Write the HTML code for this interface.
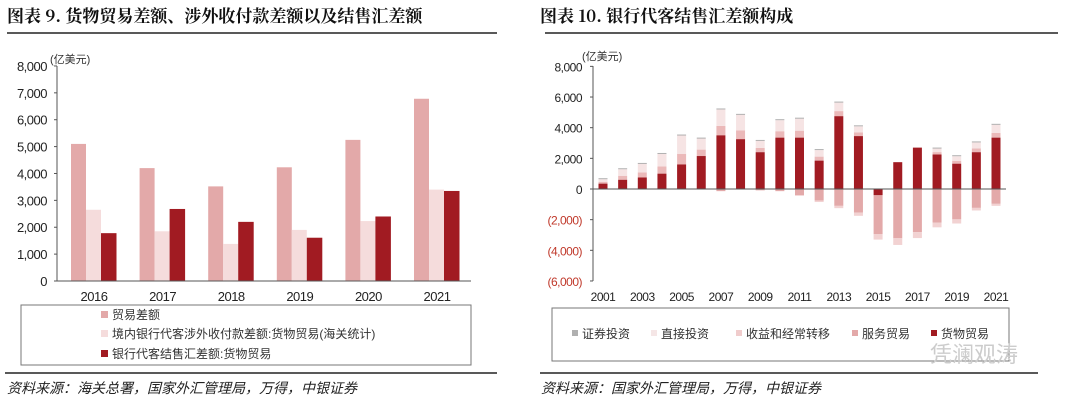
<!DOCTYPE html>
<html><head><meta charset="utf-8">
<style>
html,body{margin:0;padding:0;background:#fff;}
body{width:1080px;height:405px;overflow:hidden;position:relative;font-family:"Liberation Sans","Noto Sans CJK SC",sans-serif;}
svg{position:absolute;left:0;top:0;}
</style></head><body>
<svg id="s" width="1080" height="405" xmlns="http://www.w3.org/2000/svg" font-family="Liberation Sans, Noto Sans CJK SC, sans-serif">
<text x="7" y="22" font-size="17" font-weight="bold" fill="#111" font-family="Noto Serif CJK SC, Noto Sans CJK SC, serif">图表 9. 货物贸易差额、涉外收付款差额以及结售汇差额</text>
<text x="540" y="22" font-size="17" font-weight="bold" fill="#111" font-family="Noto Serif CJK SC, Noto Sans CJK SC, serif">图表 10. 银行代客结售汇差额构成</text>
<line x1="7" y1="33" x2="497" y2="33" stroke="#222" stroke-width="1.5"/>
<line x1="545" y1="33" x2="1058" y2="33" stroke="#222" stroke-width="1.5"/>
<line x1="5" y1="373" x2="497" y2="373" stroke="#222" stroke-width="1.5"/>
<line x1="540" y1="373" x2="1038" y2="373" stroke="#222" stroke-width="1.5"/>
<text x="7" y="393" font-size="14" font-style="italic" fill="#222">资料来源：海关总署，国家外汇管理局，万得，中银证券</text>
<text x="541" y="393" font-size="14" font-style="italic" fill="#222">资料来源：国家外汇管理局，万得，中银证券</text>
<g id="L"></g><g id="R"></g>
<rect x="21" y="305" width="450" height="60" fill="none" stroke="#777" stroke-width="1"/>
<rect x="101" y="311" width="7" height="7" fill="#e3a9a9"/><text x="112" y="319" font-size="12" fill="#333">贸易差额</text>
<rect x="101" y="330" width="7" height="7" fill="#f5dcdc"/><text x="112" y="338" font-size="12" fill="#333">境内银行代客涉外收付款差额:货物贸易(海关统计)</text>
<rect x="101" y="350" width="7" height="7" fill="#a11b22"/><text x="112" y="358" font-size="12" fill="#333">银行代客结售汇差额:货物贸易</text>
<rect x="552" y="308" width="457" height="53" fill="none" stroke="#777" stroke-width="1"/>
<rect x="572" y="330" width="6" height="6" fill="#b0b0b0"/><text x="582" y="338" font-size="12" fill="#333">证券投资</text>
<rect x="651" y="330" width="6" height="6" fill="#f5e6e6"/><text x="661" y="338" font-size="12" fill="#333">直接投资</text>
<rect x="736" y="330" width="6" height="6" fill="#f0cccc"/><text x="746" y="338" font-size="12" fill="#333">收益和经常转移</text>
<rect x="852" y="330" width="6" height="6" fill="#e3a9a9"/><text x="862" y="338" font-size="12" fill="#333">服务贸易</text>
<rect x="931" y="330" width="6" height="6" fill="#a11b22"/><text x="941" y="338" font-size="12" fill="#333">货物贸易</text>
<text x="930" y="362" font-size="22" fill="#ccc">凭澜观涛</text>
</svg>
<script>
var NS="http://www.w3.org/2000/svg";
function el(p,t,a,tx){var e=document.createElementNS(NS,t);for(var k in a)e.setAttribute(k,a[k]);if(tx!==undefined)e.textContent=tx;p.appendChild(e);return e;}
var L=document.getElementById("L");
function yl(v){return 281-v*0.02688;}
for(var i=0;i<=8;i++){var v=i*1000;el(L,"text",{x:47,y:yl(v)+5,"font-size":13,"text-anchor":"end",fill:"#222","letter-spacing":"-0.5"},v===0?"0":(i+",000"));}
el(L,"text",{x:50,y:63,"font-size":11,fill:"#333"},"(亿美元)");
var pk=[5100,4200,3520,4230,5250,6780],lt=[2650,1850,1380,1900,2230,3400],dk=[1780,2680,2200,1610,2400,3350];
for(var i=0;i<6;i++){var x=71+i*68.6;
el(L,"rect",{x:x,y:yl(pk[i]),width:15,height:281-yl(pk[i]),fill:"#e3a9a9"});
el(L,"rect",{x:x+15,y:yl(lt[i]),width:15,height:281-yl(lt[i]),fill:"#f5dcdc"});
el(L,"rect",{x:x+30,y:yl(dk[i]),width:15.5,height:281-yl(dk[i]),fill:"#a11b22"});
el(L,"text",{x:x+23,y:301,"font-size":13,"text-anchor":"middle",fill:"#222","letter-spacing":"-0.5"},2016+i);}
el(L,"line",{x1:57,y1:66,x2:57,y2:281,stroke:"#555"});
el(L,"line",{x1:57,y1:281,x2:471,y2:281,stroke:"#555"});
for(var i=0;i<=8;i++)el(L,"line",{x1:54,y1:yl(i*1000),x2:57,y2:yl(i*1000),stroke:"#555"});
var R=document.getElementById("R");
function yr(v){return 189-v*0.01533;}
for(var i=-3;i<=4;i++){var v=i*2000;var t=v===0?"0":(v>0?(v/1000)+",000":"("+(-v/1000)+",000)");
el(R,"text",{x:582,y:yr(v)+5,"font-size":12,"text-anchor":"end",fill:v<0?"#c0392b":"#222","letter-spacing":"-0.5"},t);
el(R,"line",{x1:590,y1:yr(v),x2:593,y2:yr(v),stroke:"#555"});}
el(R,"text",{x:582,y:60,"font-size":11,fill:"#333"},"(亿美元)");
var d=[350,600,750,1000,1600,2150,3500,3250,2400,3350,3350,1850,4750,3450,-400,1750,2700,2250,1650,2400,3350];
var tp=[700,1350,1700,2350,3550,3350,5250,4900,3200,4550,4650,2600,5700,4150,0,0,0,2700,2200,3100,4250];
var neg=[0,0,0,0,0,0,-150,0,-100,-150,-450,-850,-1250,-1750,-3300,-3650,-3200,-2500,-2250,-1400,-1100];
for(var i=0;i<21;i++){var cx=603+i*19.65,x=cx-4.5,w=9;
var b=Math.max(d[i],0);
if(tp[i]>b){var rem=tp[i]-b;var a=b+rem*0.35;
el(R,"rect",{x:x,y:yr(a),width:w,height:yr(b)-yr(a),fill:"#ebb9b9"});
el(R,"rect",{x:x,y:yr(tp[i]-60),width:w,height:yr(a)-yr(tp[i]-60),fill:"#f6e4e4"});
el(R,"rect",{x:x,y:yr(tp[i]),width:w,height:yr(tp[i]-60)-yr(tp[i]),fill:"#aaa"});}
var nb=Math.min(d[i],0);
if(neg[i]<nb){var n2=neg[i]+(nb-neg[i])*0.12;
el(R,"rect",{x:x,y:yr(nb),width:w,height:yr(n2)-yr(nb),fill:"#e3a9a9"});
el(R,"rect",{x:x,y:yr(n2),width:w,height:yr(neg[i])-yr(n2),fill:"#f2d2d2"});}
el(R,"rect",{x:x,y:Math.min(yr(d[i]),189),width:w,height:Math.abs(yr(d[i])-189),fill:"#a11b22"});
if(i%2==0)el(R,"text",{x:cx,y:301,"font-size":12,"text-anchor":"middle",fill:"#222","letter-spacing":"-0.5"},2001+i);}
el(R,"line",{x1:593,y1:66,x2:593,y2:281,stroke:"#555"});
el(R,"line",{x1:593,y1:189,x2:1006,y2:189,stroke:"#555"});
</script>
</body></html>
